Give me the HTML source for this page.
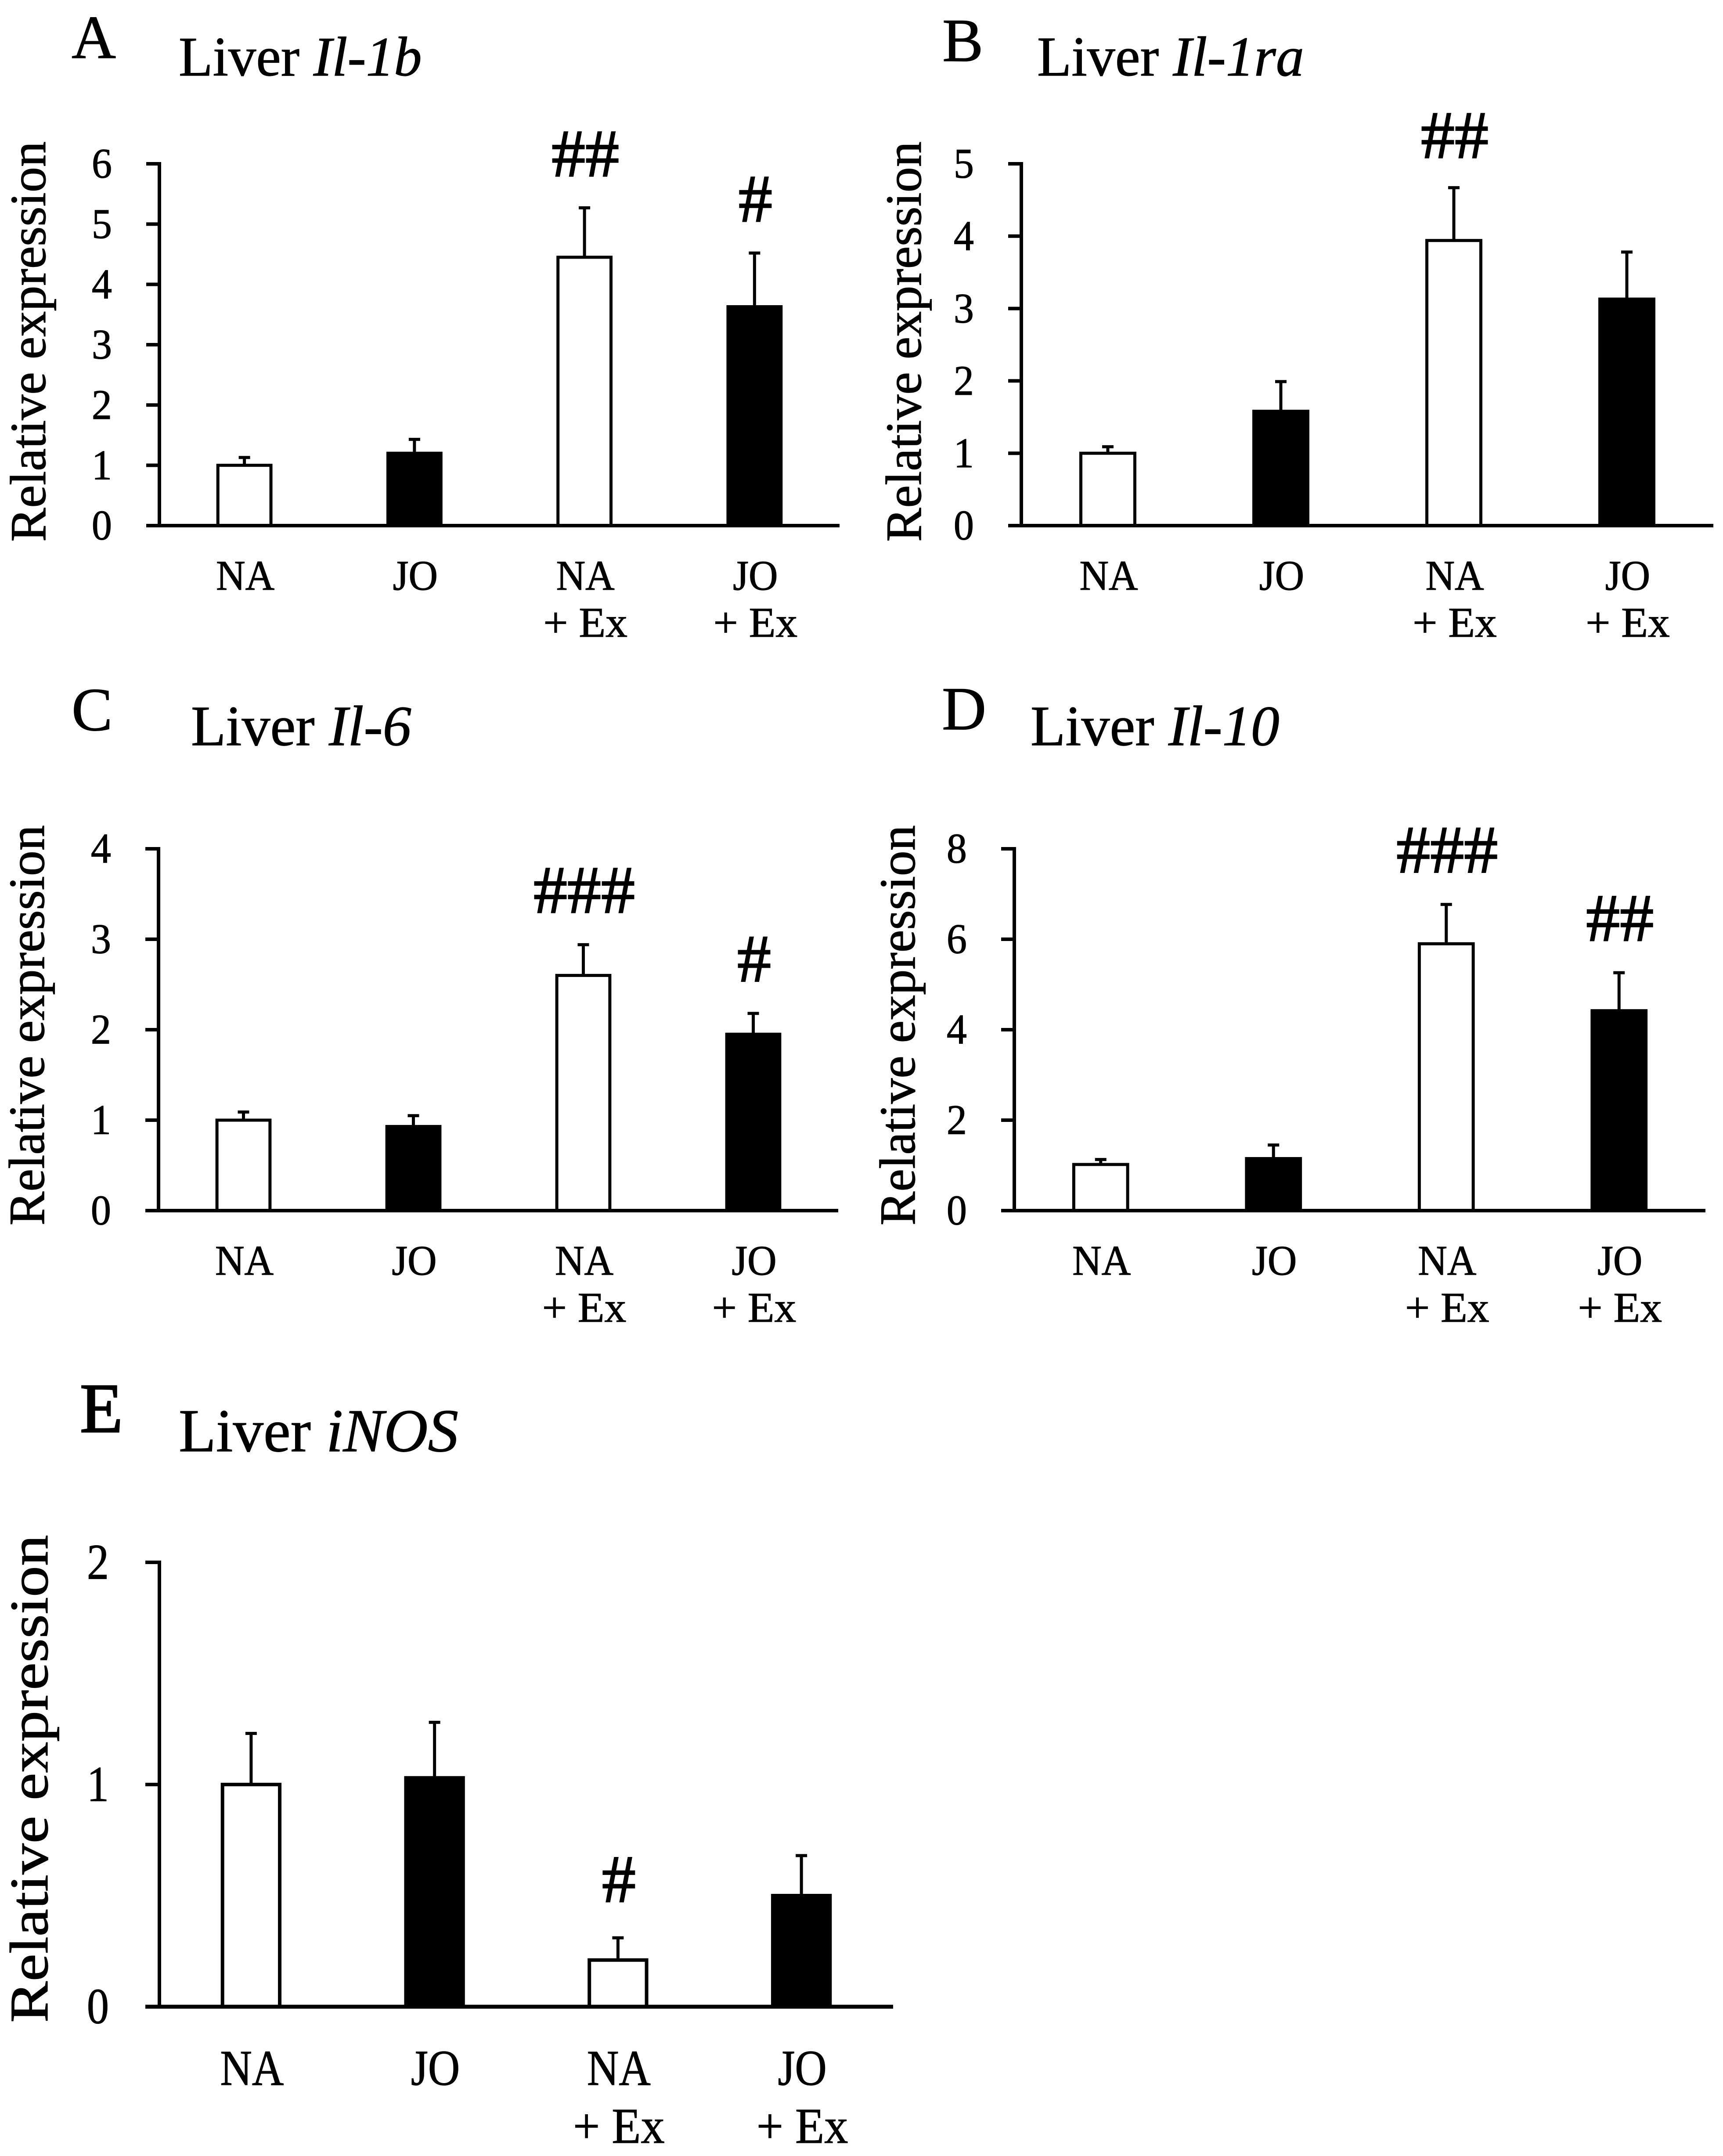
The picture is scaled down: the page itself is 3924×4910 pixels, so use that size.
<!DOCTYPE html>
<html>
<head>
<meta charset="utf-8">
<title>Liver cytokine expression</title>
<style>
html,body{margin:0;padding:0;background:#fff;width:3924px;height:4910px;overflow:hidden}
svg{display:block}
text{font-family:"Liberation Serif",serif;fill:#000;stroke:#000;stroke-width:1.2px}
.mark{stroke-width:2.5px}
.heavy{stroke-width:3px}
</style>
</head>
<body>
<svg id="fig" xmlns="http://www.w3.org/2000/svg" width="3924" height="4910" viewBox="0 0 3924 4910">
<rect width="3924" height="4910" fill="#fff"/>
<text x="163" y="132" font-size="140">A</text>
<text x="407" y="172" font-size="127">Liver <tspan font-style="italic">Il-1b</tspan></text>
<text x="2146" y="139" font-size="140">B</text>
<text x="2362" y="172" font-size="128">Liver <tspan font-style="italic">Il-1ra</tspan></text>
<text x="163" y="1663" font-size="140">C</text>
<text x="435" y="1697" font-size="130">Liver <tspan font-style="italic">Il-6</tspan></text>
<text x="2145" y="1661" font-size="140">D</text>
<text x="2347" y="1697" font-size="130">Liver <tspan font-style="italic">Il-10</tspan></text>
<text class="heavy" x="182" y="3261" font-size="160">E</text>
<text x="407" y="3305" font-size="139">Liver <tspan font-style="italic">iNOS</tspan></text>
</svg>
<script>
var categoryLines = [["NA"], ["JO"], ["NA", "+ Ex"], ["JO", "+ Ex"]];
var barFills = ["#fff", "#000", "#fff", "#000"];

var panelAValues = [1, 1.2, 4.45, 3.63];
var panelAErrors = [0.13, 0.23, 0.82, 0.89];
var panelATicks = [0, 1, 2, 3, 4, 5, 6];
var panelAMarks = ["", "", "##", "#"];

var panelBValues = [1, 1.58, 3.94, 3.13];
var panelBErrors = [0.09, 0.41, 0.73, 0.65];
var panelBTicks = [0, 1, 2, 3, 4, 5];
var panelBMarks = ["", "", "##", ""];

var panelCValues = [1, 0.93, 2.6, 1.95];
var panelCErrors = [0.09, 0.12, 0.34, 0.23];
var panelCTicks = [0, 1, 2, 3, 4];
var panelCMarks = ["", "", "###", "#"];

var panelDValues = [1.02, 1.15, 5.9, 4.42];
var panelDErrors = [0.11, 0.3, 0.87, 0.84];
var panelDTicks = [0, 2, 4, 6, 8];
var panelDMarks = ["", "", "###", "##"];

var panelEValues = [1, 1.03, 0.21, 0.5];
var panelEErrors = [0.23, 0.25, 0.1, 0.18];
var panelETicks = [0, 1, 2];
var panelEMarks = ["", "", "#", ""];

var NS = "http://www.w3.org/2000/svg";
var svg = document.getElementById("fig");

function make(tag, attrs, parent) {
  var el = document.createElementNS(NS, tag);
  for (var k in attrs) el.setAttribute(k, attrs[k]);
  parent.appendChild(el);
  return el;
}

function squeeze(el, factor) {
  el.setAttribute("lengthAdjust", "spacingAndGlyphs");
  el.setAttribute("textLength", el.getComputedTextLength() * factor);
}

function drawPanel(id, values, errors, ticks, marks, box) {
  var g = make("g", {}, svg);
  
  

  var maxTick = ticks[ticks.length - 1];
  function yScale(v) { return box.y0 - (v / maxTick) * (box.y0 - box.top); }
  var band = (box.right - box.left) / values.length;
  function xScale(i) { return box.left + band * (i + 0.5); }

  var title = make("text", {x: box.labelX, y: (box.top + box.labelY), "font-size": box.labelSize, "text-anchor": "middle", transform: "rotate(-90 " + box.labelX + " " + (box.top + box.labelY) + ")"}, g);
  title.textContent = "Relative expression";
  
  
  if (box.labelSqueeze) squeeze(title, box.labelSqueeze);

  ticks.forEach(function (t) {
    var y = yScale(t);
    var tick = make("line", {x1: box.left - box.tickLen, x2: box.left, y1: y, y2: y, stroke: "#000", "stroke-width": 8}, g);
    
    
    var lab = make("text", {x: box.left - box.tickGap, y: y + box.tickSize * 0.33, "font-size": box.tickSize, "text-anchor": "end"}, g);
    lab.textContent = t;
    
    
    squeeze(lab, box.textSqueeze);
  });

  values.forEach(function (v, i) {
    var cx = xScale(i);
    var w = band * 0.312;
    var yTop = yScale(v + errors[i]);

    var stem = make("line", {x1: cx, x2: cx, y1: yScale(v), y2: yTop, stroke: "#000", "stroke-width": 7}, g);
    
    
    var cap = make("line", {x1: cx - 13, x2: cx + 13, y1: yTop, y2: yTop, stroke: "#000", "stroke-width": 7}, g);
    
    

    var bar = make("rect", {x: cx - w / 2, y: yScale(v), width: w, height: box.y0 - yScale(v), fill: barFills[i], stroke: "#000", "stroke-width": box.barStroke}, g);
    
    

    categoryLines[i].forEach(function (line, j) {
      var t = make("text", {x: cx + 2, y: box.y0 + box.catOffsets[j], "font-size": box.tickSize, "text-anchor": "middle"}, g);
      t.textContent = line;
      
      
      squeeze(t, box.textSqueeze * (j === 1 ? 1.08 : 1));
    });

    if (marks[i]) {
      var m = make("text", {x: cx + 2, y: yTop - box.markGap, "font-size": 154, "text-anchor": "middle", "class": "mark"}, g);
      m.textContent = marks[i];
      
      
    }
  });

  var yAxis = make("line", {x1: box.left, x2: box.left, y1: box.top - 4, y2: box.y0, stroke: "#000", "stroke-width": 8}, g);
  
  
  var xAxis = make("line", {x1: box.left - box.tickLen, x2: box.right, y1: box.y0, y2: box.y0, stroke: "#000", "stroke-width": box.barStroke + 1}, g);
  
  
}

drawPanel("a", panelAValues, panelAErrors, panelATicks, panelAMarks, {left: 363, right: 1912, top: 373, y0: 1197, labelX: 103, labelY: 405, labelSize: 116, tickSize: 96, tickLen: 30, tickGap: 108, textSqueeze: 0.96, barStroke: 7, catOffsets: [146, 253], markGap: 72});
drawPanel("b", panelBValues, panelBErrors, panelBTicks, panelBMarks, {left: 2326, right: 3902, top: 373, y0: 1197, labelX: 2097, labelY: 405, labelSize: 116, tickSize: 96, tickLen: 30, tickGap: 108, textSqueeze: 0.96, barStroke: 7, catOffsets: [146, 253], markGap: 68});
drawPanel("c", panelCValues, panelCErrors, panelCTicks, panelCMarks, {left: 361, right: 1909, top: 1933, y0: 2757, labelX: 100, labelY: 402, labelSize: 116, tickSize: 96, tickLen: 30, tickGap: 108, textSqueeze: 0.96, barStroke: 7, catOffsets: [146, 253], markGap: 73});
drawPanel("d", panelDValues, panelDErrors, panelDTicks, panelDMarks, {left: 2310, right: 3884, top: 1933, y0: 2757, labelX: 2083, labelY: 402, labelSize: 116, tickSize: 96, tickLen: 30, tickGap: 108, textSqueeze: 0.96, barStroke: 7, catOffsets: [146, 253], markGap: 73});
drawPanel("e", panelEValues, panelEErrors, panelETicks, panelEMarks, {left: 363, right: 2034, top: 3558, y0: 4570, labelX: 108, labelY: 493, labelSize: 124, labelSqueeze: 1.14, tickSize: 114, tickLen: 32, tickGap: 115, textSqueeze: 0.88, barStroke: 8, catOffsets: [178, 310], markGap: 82});
</script>
</body>
</html>
